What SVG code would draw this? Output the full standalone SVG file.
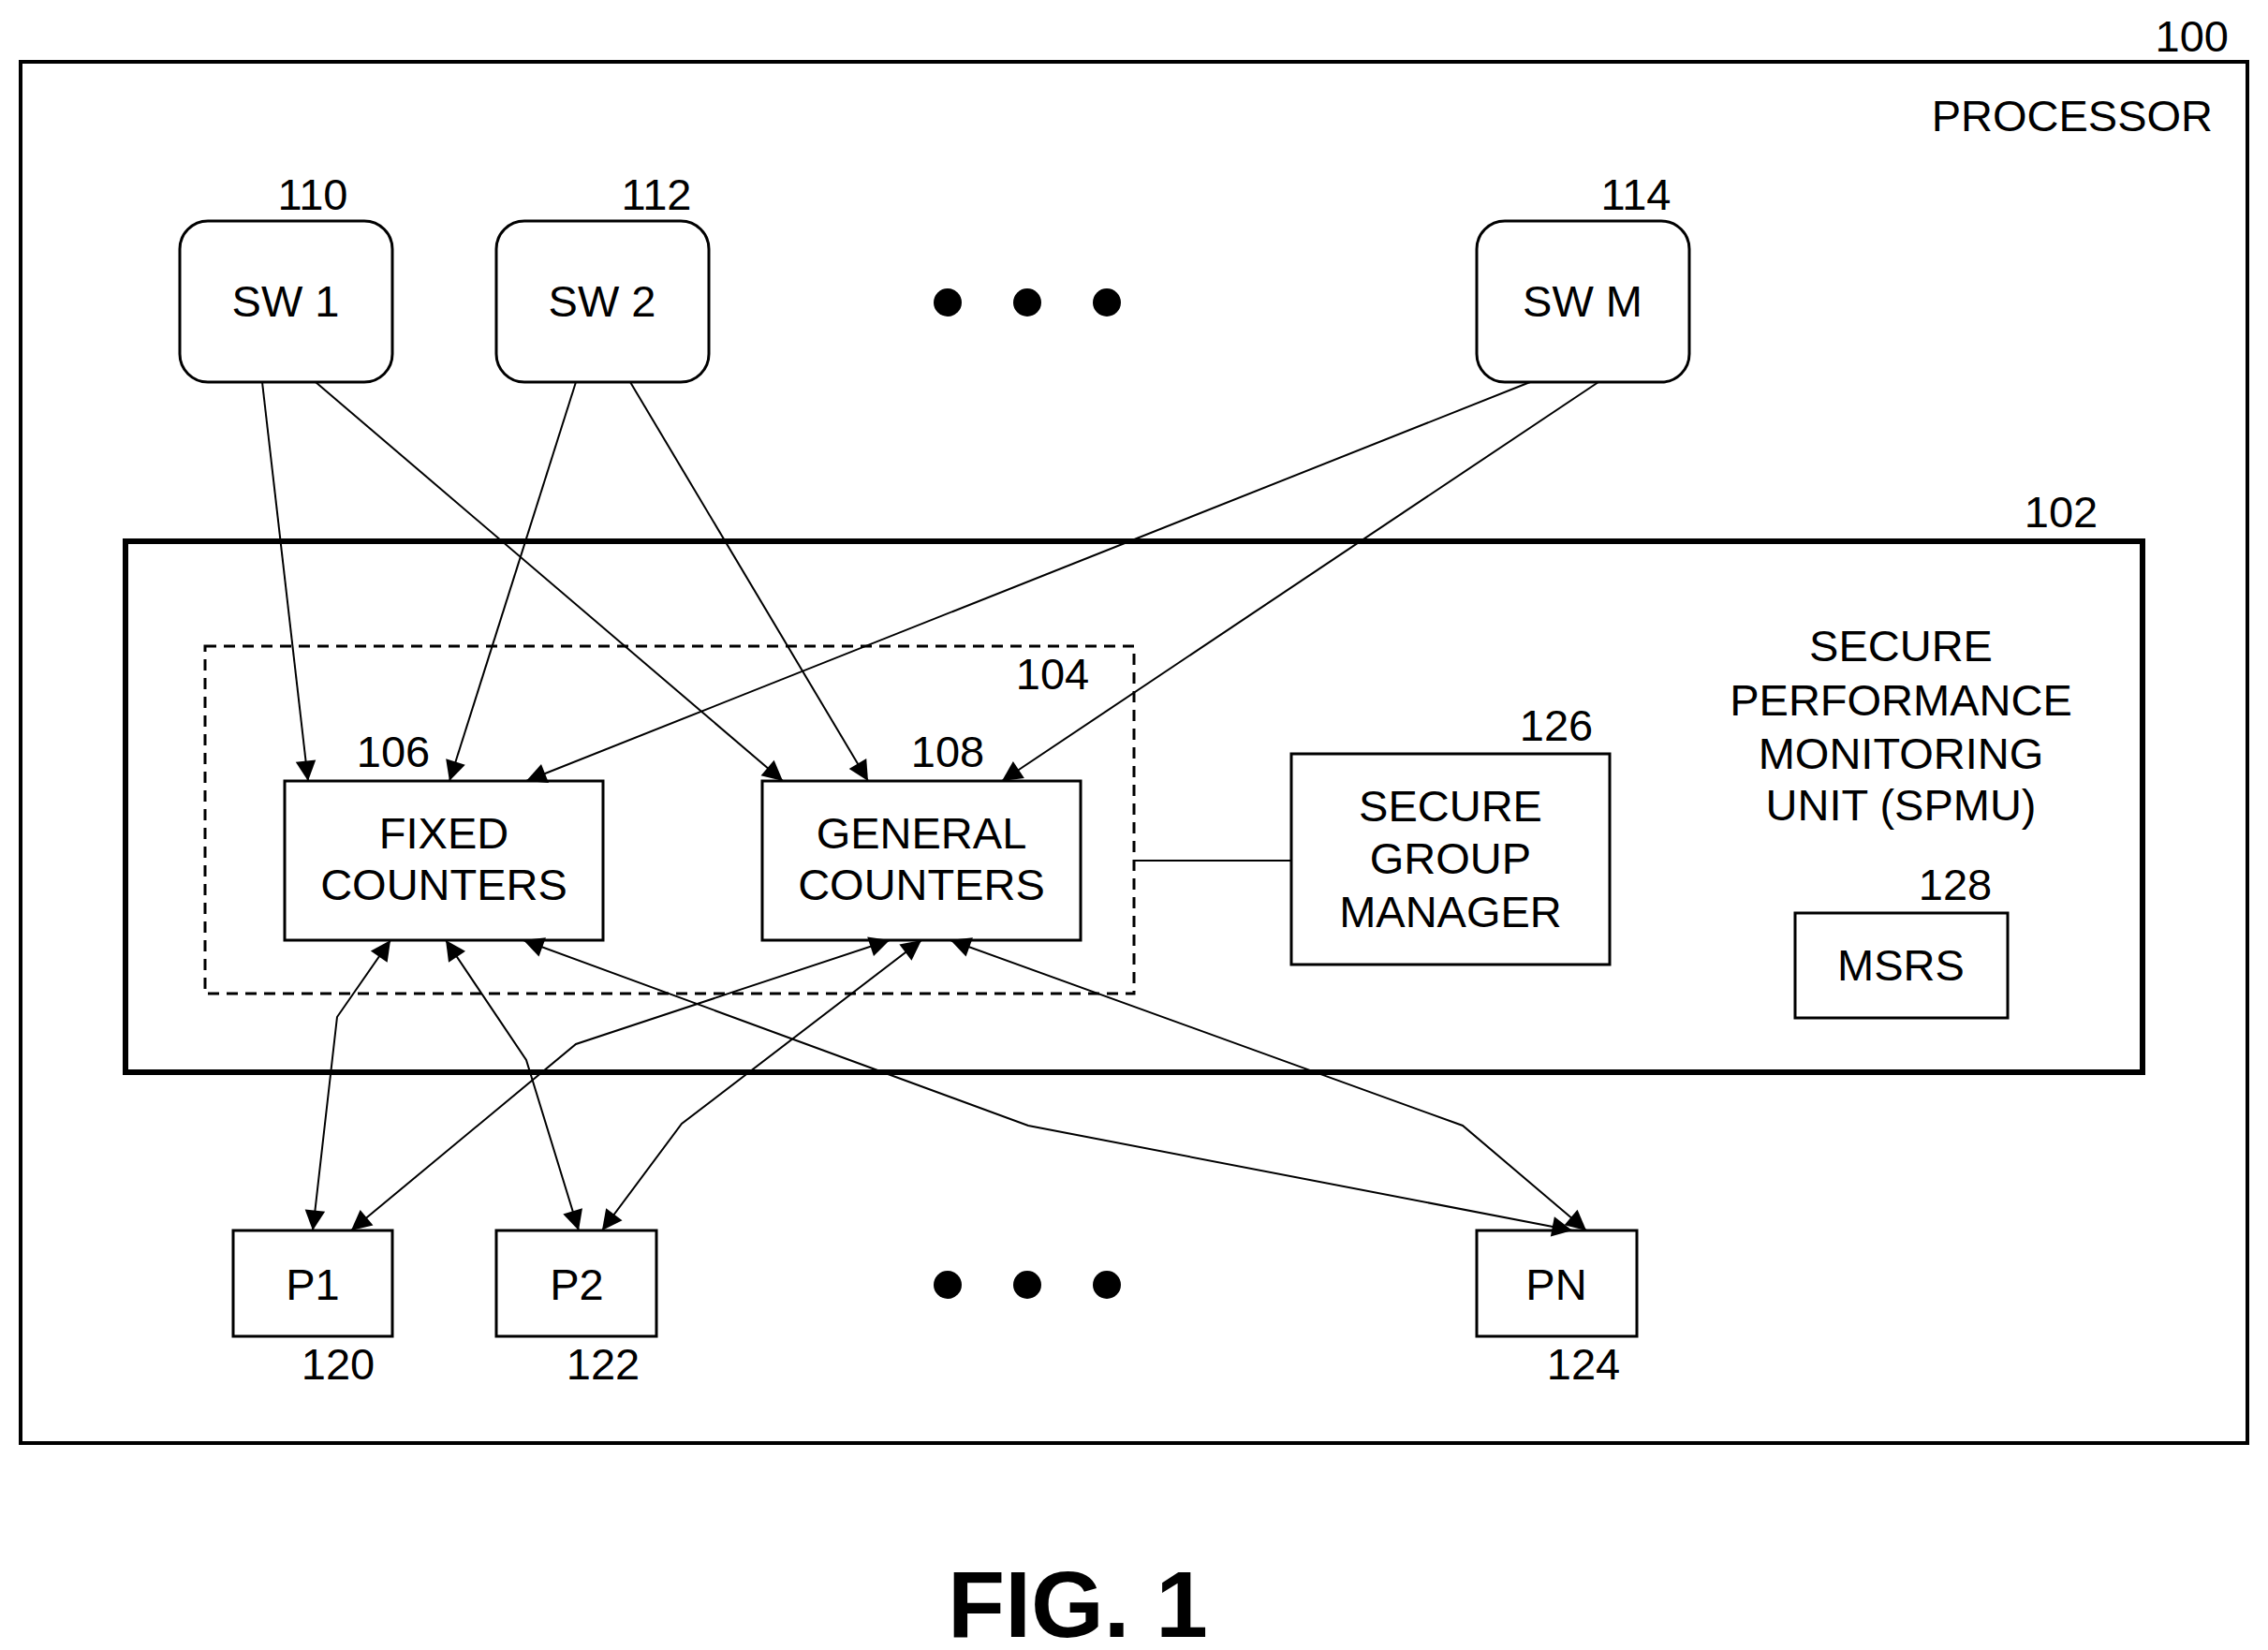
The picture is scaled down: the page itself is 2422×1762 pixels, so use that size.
<svg xmlns="http://www.w3.org/2000/svg" width="2422" height="1762" viewBox="0 0 2422 1762">
<style>
text{font-family:"Liberation Sans",Arial,sans-serif;fill:#000;font-size:47px}
.c{text-anchor:middle}
.b{fill:#fff;stroke:#000;stroke-width:3}
.l{fill:none;stroke:#000;stroke-width:2}
.fig{font-size:100px;font-weight:bold}
</style>
<defs>
<marker id="a" viewBox="0 0 10 10" refX="10" refY="5" markerWidth="9" markerHeight="9" markerUnits="userSpaceOnUse" orient="auto-start-reverse" overflow="visible">
<path d="M0,0 L10,5 L0,10 Z" transform="scale(2.4) translate(-5.8,-2.9)" fill="#000"/>
</marker>
</defs>
<rect x="22" y="66" width="2378" height="1475" fill="none" stroke="#000" stroke-width="4"/>
<text x="2380" y="55" text-anchor="end">100</text>
<text x="2363" y="140" text-anchor="end">PROCESSOR</text>
<g id="sw1"><rect class="b" x="192" y="236" width="227" height="172" rx="30"/><text class="c" x="305" y="338">SW 1</text><text class="c" x="334" y="224">110</text></g>
<g id="sw2"><rect class="b" x="530" y="236" width="227" height="172" rx="30"/><text class="c" x="643" y="338">SW 2</text><text class="c" x="701" y="224">112</text></g>
<g id="swm"><rect class="b" x="1577" y="236" width="227" height="172" rx="30"/><text class="c" x="1690" y="338">SW M</text><text class="c" x="1747" y="224">114</text></g>
<g id="dots1"><circle cx="1012" cy="323" r="15"/><circle cx="1097" cy="323" r="15"/><circle cx="1182" cy="323" r="15"/></g>
<g id="spmu"><rect x="134" y="578" width="2154" height="567" fill="none" stroke="#000" stroke-width="6"/><text class="c" x="2201" y="563">102</text>
<text class="c" x="2030" y="706">SECURE</text><text class="c" x="2030" y="764">PERFORMANCE</text><text class="c" x="2030" y="821">MONITORING</text><text class="c" x="2030" y="876">UNIT (SPMU)</text></g>
<g id="group104"><rect x="219" y="690" width="992" height="371" fill="none" stroke="#000" stroke-width="3" stroke-dasharray="12,8"/><text class="c" x="1124" y="736">104</text></g>
<g id="fixed"><rect class="b" x="304" y="834" width="340" height="170"/><text class="c" x="474" y="906">FIXED</text><text class="c" x="474" y="961">COUNTERS</text><text class="c" x="420" y="819">106</text></g>
<g id="general"><rect class="b" x="814" y="834" width="340" height="170"/><text class="c" x="984" y="906">GENERAL</text><text class="c" x="984" y="961">COUNTERS</text><text class="c" x="1012" y="819">108</text></g>
<g id="sgm"><rect class="b" x="1379" y="805" width="340" height="225"/><text class="c" x="1549" y="877">SECURE</text><text class="c" x="1549" y="933">GROUP</text><text class="c" x="1549" y="990">MANAGER</text><text class="c" x="1662" y="791">126</text></g>
<g id="msrs"><rect class="b" x="1917" y="975" width="227" height="112"/><text class="c" x="2030" y="1047">MSRS</text><text class="c" x="2088" y="961">128</text></g>
<g id="p1"><rect class="b" x="249" y="1314" width="170" height="113"/><text class="c" x="334" y="1388">P1</text><text class="c" x="361" y="1473">120</text></g>
<g id="p2"><rect class="b" x="530" y="1314" width="171" height="113"/><text class="c" x="616" y="1388">P2</text><text class="c" x="644" y="1473">122</text></g>
<g id="pn"><rect class="b" x="1577" y="1314" width="171" height="113"/><text class="c" x="1662" y="1388">PN</text><text class="c" x="1691" y="1473">124</text></g>
<g id="dots2"><circle cx="1012" cy="1372" r="15"/><circle cx="1097" cy="1372" r="15"/><circle cx="1182" cy="1372" r="15"/></g>
<text class="c fig" x="1151" y="1748">FIG. 1</text>
<g id="connectors">
<line class="l" x1="1211" y1="919" x2="1379" y2="919" stroke-width="3"/>
<line class="l" x1="280" y1="408" x2="329" y2="834" marker-end="url(#a)"/>
<line class="l" x1="337" y1="408" x2="836" y2="834" marker-end="url(#a)"/>
<line class="l" x1="615" y1="408" x2="480" y2="834" marker-end="url(#a)"/>
<line class="l" x1="673" y1="408" x2="927" y2="834" marker-end="url(#a)"/>
<line class="l" x1="1634" y1="408" x2="562" y2="834" marker-end="url(#a)"/>
<line class="l" x1="1707" y1="408" x2="1070" y2="834" marker-end="url(#a)"/>
<polyline class="l" points="417,1004 360,1086 334,1314" marker-start="url(#a)" marker-end="url(#a)"/>
<polyline class="l" points="476,1004 562,1132 618,1314" marker-start="url(#a)" marker-end="url(#a)"/>
<polyline class="l" points="559,1004 1098,1202 1679,1314" marker-start="url(#a)" marker-end="url(#a)"/>
<polyline class="l" points="950,1004 615,1115 375,1314" marker-start="url(#a)" marker-end="url(#a)"/>
<polyline class="l" points="984,1004 728,1200 643,1314" marker-start="url(#a)" marker-end="url(#a)"/>
<polyline class="l" points="1015,1004 1562,1202 1694,1314" marker-start="url(#a)" marker-end="url(#a)"/>
</g>
</svg>
